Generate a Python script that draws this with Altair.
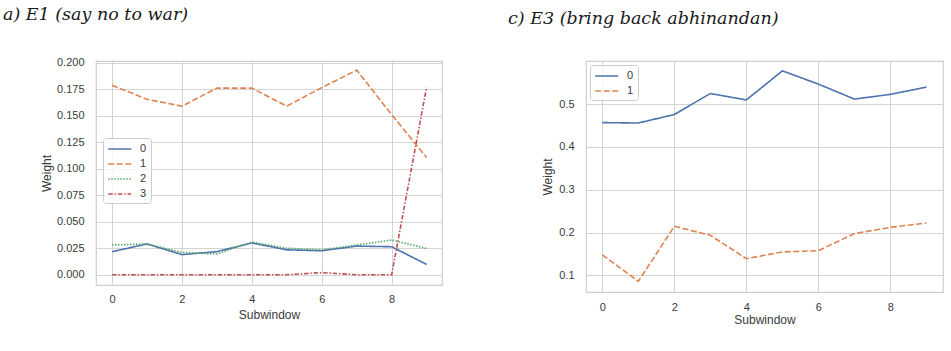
import altair as alt
import pandas as pd

# ---------------- data ----------------
subwindow = [0, 1, 2, 3, 4, 5, 6, 7, 8, 9]

# Panel a) E1 (say no to war)
e1_topic0 = [0.0217, 0.0290, 0.0190, 0.0217, 0.0300, 0.0235, 0.0226, 0.0270, 0.0264, 0.0097]
e1_topic1 = [0.1787, 0.1655, 0.1590, 0.1760, 0.1760, 0.1590, 0.1765, 0.1930, 0.1510, 0.1105]
e1_topic2 = [0.0280, 0.0290, 0.0210, 0.0195, 0.0308, 0.0250, 0.0235, 0.0280, 0.0327, 0.0248]
e1_topic3 = [0.0000, 0.0000, 0.0000, 0.0000, 0.0000, 0.0000, 0.0020, 0.0000, 0.0000, 0.1770]

# Panel c) E3 (bring back abhinandan)
e3_topic0 = [0.457, 0.456, 0.476, 0.525, 0.510, 0.578, 0.547, 0.512, 0.523, 0.540]
e3_topic1 = [0.148, 0.086, 0.2146, 0.1936, 0.139, 0.1546, 0.1577, 0.1975, 0.212, 0.2224]

series_names = ["0", "1", "2", "3"]
series_colors = ["#4C72B0", "#DD8452", "#55A868", "#C44E52"]
series_dashes = [[1, 0], [6, 2.5], [1.5, 1.5], [4.5, 1.8, 1.5, 1.8]]

left_yticks = [0.0, 0.025, 0.05, 0.075, 0.1, 0.125, 0.15, 0.175, 0.2]
right_yticks = [0.1, 0.2, 0.3, 0.4, 0.5]
xticks = [0, 2, 4, 6, 8]


def long_df(series):
    rows = []
    for name, vals in series:
        for x, v in zip(subwindow, vals):
            rows.append({"Subwindow": x, "Weight": v, "topic": name})
    return pd.DataFrame(rows)


df_e1 = long_df([("0", e1_topic0), ("1", e1_topic1), ("2", e1_topic2), ("3", e1_topic3)])
df_e3 = long_df([("0", e3_topic0), ("1", e3_topic1)])

AXIS_FONT = "Liberation Sans"
TEXT_COLOR = "#3a3a3a"
GRID = "#d4d4d4"


def panel(df, n, width, height, xdom, ydom, yticks, yfmt, title, title_dx, title_offset,
          legend_x, legend_y, ylab_pad, ytitle_pad, xlab_pad, xtitle_pad):
    names = series_names[:n]
    return (
        alt.Chart(df)
        .mark_line(strokeWidth=1.6, clip=True)
        .encode(
            x=alt.X(
                "Subwindow:Q",
                scale=alt.Scale(domain=xdom, nice=False, zero=False),
                axis=alt.Axis(values=xticks, format="d", title="Subwindow",
                              labelPadding=xlab_pad, titlePadding=xtitle_pad),
            ),
            y=alt.Y(
                "Weight:Q",
                scale=alt.Scale(domain=ydom, nice=False, zero=False),
                axis=alt.Axis(values=yticks, format=yfmt, title="Weight",
                              labelPadding=ylab_pad, titlePadding=ytitle_pad),
            ),
            color=alt.Color(
                "topic:N",
                scale=alt.Scale(domain=names, range=series_colors[:n]),
                legend=alt.Legend(
                    title=None, orient="none", legendX=legend_x, legendY=legend_y,
                    symbolType="M-1,0H3", symbolSize=132, symbolStrokeWidth=1.6,
                    labelFontSize=11, labelFont=AXIS_FONT, labelColor=TEXT_COLOR,
                    rowPadding=3, padding=4, labelOffset=19,
                    fillColor="rgba(255,255,255,0.8)", strokeColor="#cccccc",
                    cornerRadius=3,
                ),
            ),
            strokeDash=alt.StrokeDash(
                "topic:N",
                scale=alt.Scale(domain=names, range=series_dashes[:n]),
                legend=alt.Legend(title=None),
            ),
            order=alt.Order("topic:N"),
        )
        .properties(
            width=width,
            height=height,
            title=alt.TitleParams(
                text=title, anchor="start", frame="group", dx=title_dx,
                offset=title_offset, font="DejaVu Serif", fontStyle="italic",
                fontWeight="normal", fontSize=17.5, color="#1a1a1a",
            ),
        )
    )


left = panel(df_e1, 4, 346, 224, [-0.458, 9.44], [-0.0097, 0.2016], left_yticks, ".3f",
             "a) E1 (say no to war)", -93, 33.5, 7, 77, 12, 3, 8, 5)
right = panel(df_e3, 2, 357, 231, [-0.453, 9.46], [0.061, 0.601], right_yticks, ".1f",
              "c) E3 (bring back abhinandan)", -78, 33.5, 4, 4, 12, 4.5, 9, 2)

chart = (
    alt.concat(left, right, columns=2, spacing=64, align="none", bounds="full")
    .resolve_scale(color="independent", strokeDash="independent", x="independent", y="independent")
    .properties(padding={"left": 2, "top": 5, "right": 0, "bottom": 0}, background="white")
    .configure_view(stroke="#cfcfcf", strokeWidth=1.2)
    .configure_axis(
        grid=True, gridColor=GRID, gridWidth=1, domain=False, ticks=False,
        labelFont=AXIS_FONT, labelFontSize=11, labelColor=TEXT_COLOR,
        titleFont=AXIS_FONT, titleFontSize=12, titleColor=TEXT_COLOR, titleFontWeight="normal",
    )
)

chart.save("out.html", embed_options={"renderer": "svg", "actions": False})
